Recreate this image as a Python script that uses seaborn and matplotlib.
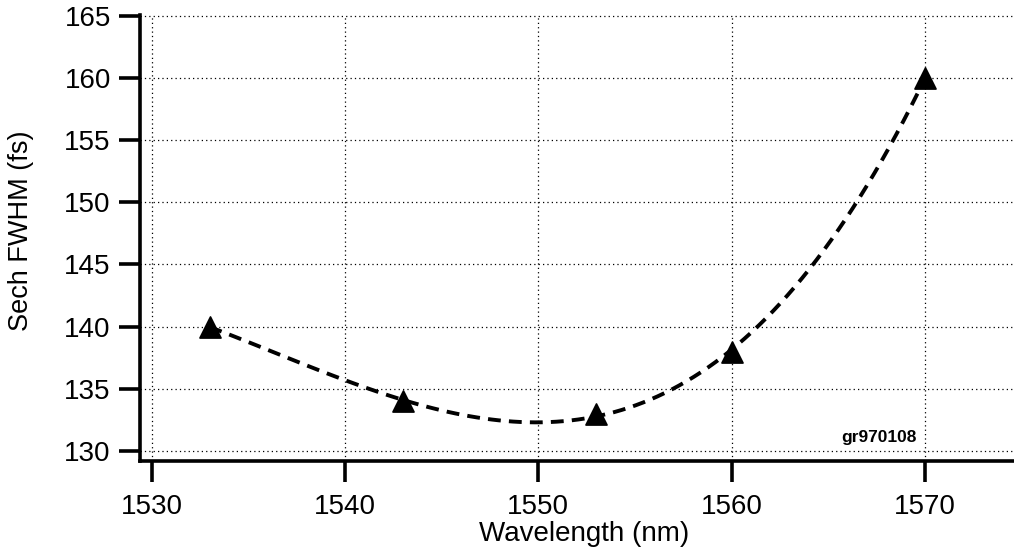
import matplotlib
matplotlib.use("Agg")
import matplotlib.pyplot as plt
import seaborn as sns
import pandas as pd

# Measured pulse width versus centre wavelength
wavelength_nm = [1533, 1543, 1553, 1560, 1570]
fwhm_fs = [140, 134, 133, 138, 160]
x_ticks = [1530, 1540, 1550, 1560, 1570]
y_ticks = [130, 135, 140, 145, 150, 155, 160, 165]

df = pd.DataFrame({"wavelength": wavelength_nm, "fwhm": fwhm_fs})

sns.set_style("white")
plt.rcParams["font.family"] = ["Liberation Sans", "DejaVu Sans"]
plt.rcParams["text.color"] = "black"
plt.rcParams["axes.labelcolor"] = "black"

fig = plt.figure(figsize=(10.14, 5.48), dpi=100)
ax = fig.add_axes([140 / 1014, 1 - 461 / 548, 1 - 140 / 1014, (461 - 15) / 548])

# Cubic fit through the measurements, drawn dashed
sns.regplot(data=df, x="wavelength", y="fwhm", order=3, ci=None, scatter=False,
            ax=ax, line_kws=dict(color="black", lw=2.8, ls=(0, (3.3, 2.1))))
sns.scatterplot(data=df, x="wavelength", y="fwhm", marker="^", s=230,
                color="black", edgecolor="black", zorder=5, ax=ax)

ax.set_xlim(1529.4, 1574.6)
ax.set_ylim(129.2, 165.05)
ax.set_xticks(x_ticks)
ax.set_yticks(y_ticks)
ax.grid(True, ls=(0, (1, 2.5)), color="black", lw=0.9)
ax.set_axisbelow(True)

for side in ("top", "right"):
    ax.spines[side].set_visible(False)
for side in ("left", "bottom"):
    ax.spines[side].set_linewidth(2.6)
    ax.spines[side].set_color("black")

ax.tick_params(axis="both", direction="out", length=15, width=2.6, color="black",
               labelcolor="black", labelsize=20, left=True, bottom=True)
ax.tick_params(axis="x", pad=9)
ax.tick_params(axis="y", pad=6)

ax.set_xlabel("Wavelength (nm)", fontsize=20)
ax.set_ylabel("Sech FWHM (fs)", fontsize=19.5)
ax.xaxis.set_label_coords(0.508, -0.134)
ax.yaxis.set_label_coords(-0.121, 0.516)

ax.text(1569.55, 130.72, "gr970108", ha="right", va="baseline", fontsize=12.5,
        fontweight="bold")

fig.savefig("out.png", dpi=100)
